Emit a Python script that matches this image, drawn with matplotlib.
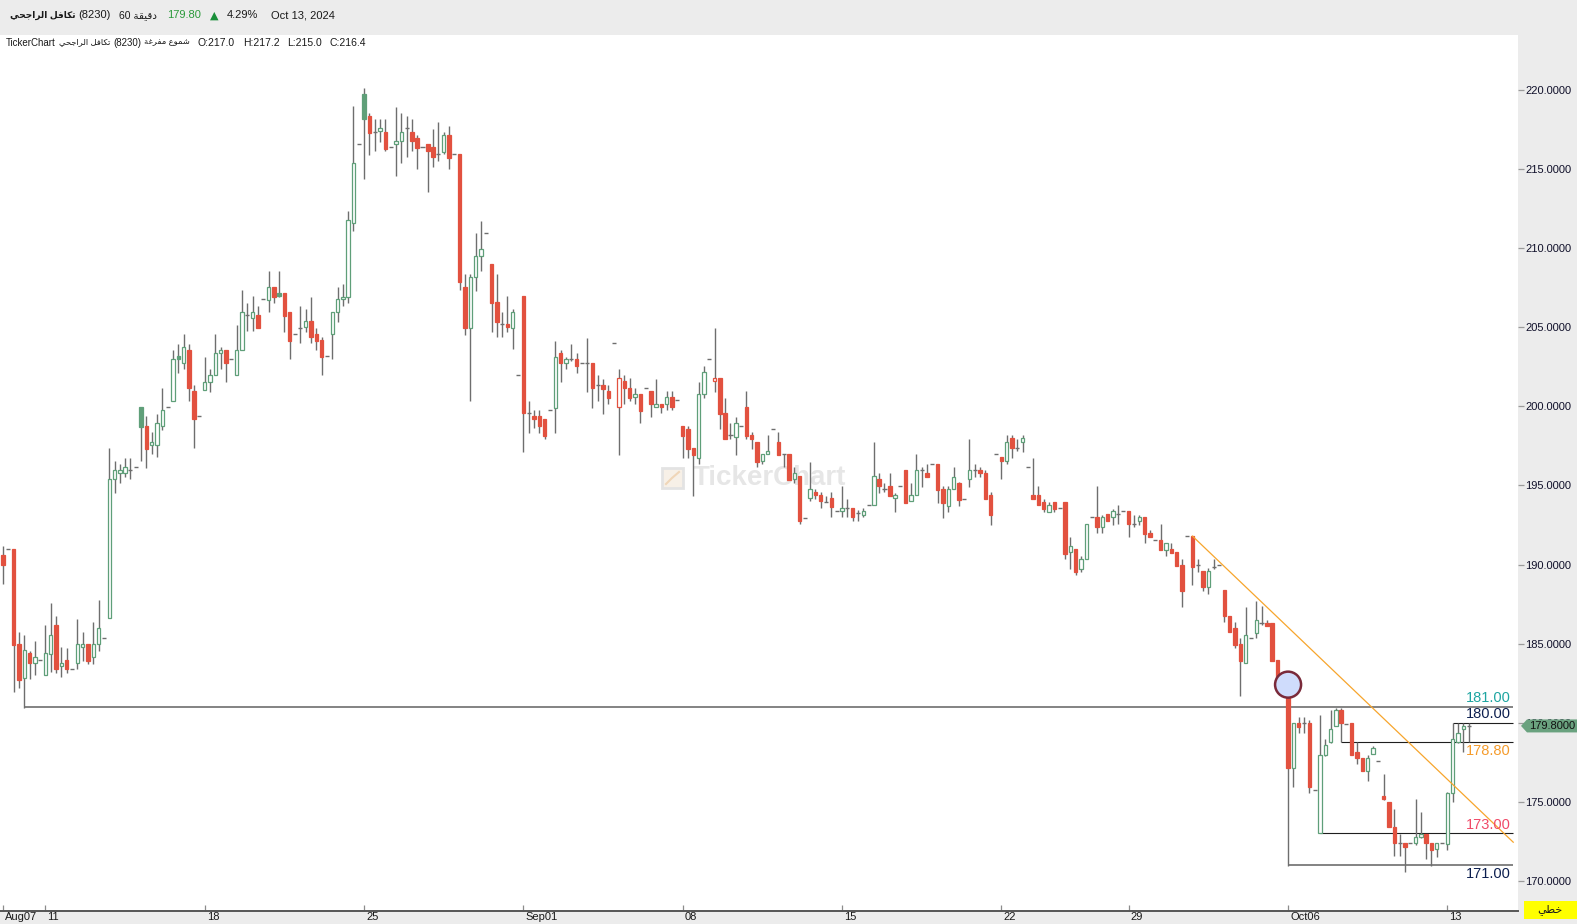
import matplotlib.pyplot as plt
from matplotlib.patches import Rectangle, Ellipse, Polygon
from matplotlib.transforms import ScaledTranslation, blended_transform_factory

plt.rcParams['font.family'] = ['Liberation Sans', 'DejaVu Sans']

# 60-minute candles, 7 Aug - 13 Oct 2024 (six per session, the sixth is the closing auction)
opens = [
    190.6, 191.0,
    191.0, 184.98, 182.82, 184.39, 183.76, 183.95,
    183.0, 184.33, 186.17, 183.56, 183.97, 183.38,
    183.76, 184.77, 184.98, 184.13, 184.96, 185.34,
    186.6, 195.39, 195.77, 195.77, 195.97, 196.14,
    199.96, 198.77, 197.54, 197.54, 198.74, 199.95,
    200.36, 203.2, 202.73, 203.56, 200.96, 199.39,
    201.04, 201.57, 201.97, 203.36, 203.56, 202.98,
    201.97, 203.56, 205.76, 205.57, 205.76, 206.77,
    206.72, 207.53, 207.15, 207.15, 205.95, 204.58,
    204.94, 205.0, 205.4, 204.58, 204.2, 203.19,
    204.56, 205.95, 206.77, 206.93, 211.57, 216.58,
    219.77, 218.36, 217.33, 217.39, 217.33, 216.37,
    216.57, 216.76, 217.59, 217.33, 216.95, 216.37,
    216.57, 216.37, 215.94, 216.1, 217.14, 215.96,
    215.96, 207.53, 204.94, 208.17, 209.53, 210.94,
    209.0, 206.62, 205.19, 205.19, 204.94, 201.97,
    206.98, 199.56, 199.39, 199.39, 199.18, 199.75,
    199.93, 203.36, 202.77, 202.98, 202.98, 202.77,
    202.77, 202.77, 201.35, 201.35, 200.97, 203.99,
    199.99, 201.61, 201.15, 200.58, 200.76, 201.15,
    200.97, 199.94, 200.13, 200.18, 200.58, 200.39,
    198.77, 198.57, 197.39, 196.76, 200.76, 202.98,
    201.59, 201.78, 199.56, 198.18, 198.09, 198.77,
    199.97, 198.19, 197.75, 196.57, 196.98, 198.57,
    197.75, 196.98, 196.98, 195.39, 195.61, 192.97,
    194.19, 194.59, 194.38, 193.94, 194.19, 193.37,
    193.37, 193.57, 193.57, 193.24, 193.16, 193.75,
    193.79, 195.39, 194.77, 194.97, 194.19, 194.97,
    195.99, 193.99, 194.38, 195.97, 195.8, 196.36,
    196.36, 194.77, 193.73, 194.77, 195.15, 194.16,
    195.38, 195.97, 195.99, 195.77, 194.38, 196.98,
    196.79, 196.54, 197.98, 197.35, 197.77, 196.15,
    194.4, 194.38, 193.96, 193.35, 193.96, 193.57,
    193.96, 190.78, 190.99, 189.74, 190.34, 193.0,
    193.02, 192.4, 193.2, 193.0, 193.19, 193.39,
    193.39, 192.56, 192.78, 193.0, 191.98, 191.55,
    191.55, 190.95, 190.97, 190.8, 189.97, 191.8,
    191.8, 189.97, 189.58, 188.56, 189.82, 189.95,
    188.41, 186.78, 185.97, 184.95, 183.79, 185.33,
    185.69, 186.33, 186.33, 186.33, 183.95, 181.73,
    182.03, 177.17, 179.97, 180.0, 179.97, 175.75,
    173.0, 177.99, 178.77, 179.8, 180.81, 179.92,
    179.97, 178.14, 177.76, 176.92, 178.01, 177.59,
    175.37, 175.0, 173.4, 172.38, 172.38, 172.38,
    172.38, 172.76, 172.97, 172.38, 171.99, 172.38,
    172.32, 175.55, 178.77, 179.59, 179.8,
]
highs = [
    191.2, 191.0,
    191.0, 185.72, 185.55, 184.55, 185.17, 183.95,
    186.2, 187.6, 186.76, 184.82, 184.71, 183.38,
    186.57, 185.74, 184.98, 186.38, 187.77, 185.34,
    197.4, 196.55, 196.36, 196.74, 196.74, 196.14,
    199.96, 199.4, 198.41, 199.52, 201.15, 199.95,
    203.56, 203.92, 204.58, 203.92, 201.35, 199.39,
    203.15, 202.36, 204.58, 203.78, 203.56, 202.98,
    205.14, 207.36, 206.55, 206.98, 206.34, 206.77,
    208.56, 207.53, 208.56, 207.15, 205.95, 204.58,
    206.34, 206.13, 206.93, 204.98, 204.41, 203.19,
    205.95, 207.57, 207.74, 212.35, 219.0, 216.58,
    220.1, 218.53, 218.15, 218.15, 218.15, 216.37,
    218.91, 218.53, 218.36, 218.15, 217.14, 216.37,
    216.57, 217.52, 217.96, 217.33, 217.73, 215.96,
    215.96, 208.35, 208.35, 210.94, 211.72, 210.94,
    209.0, 208.37, 205.95, 206.98, 206.13, 201.97,
    206.98, 200.35, 199.77, 199.77, 199.18, 199.75,
    204.13, 203.56, 203.15, 203.92, 203.36, 202.77,
    204.32, 202.77, 201.97, 201.74, 201.35, 203.99,
    202.34, 201.98, 201.78, 201.15, 200.76, 201.15,
    200.97, 201.74, 200.13, 200.97, 200.97, 200.39,
    198.77, 198.77, 197.39, 201.57, 202.55, 202.98,
    204.98, 201.78, 200.56, 198.94, 199.35, 198.77,
    200.97, 198.38, 197.75, 196.98, 198.19, 198.57,
    198.38, 196.98, 196.98, 196.15, 195.61, 192.97,
    196.51, 194.77, 194.59, 194.33, 194.59, 193.37,
    194.97, 194.13, 193.57, 193.45, 193.57, 193.75,
    197.75, 195.77, 195.18, 195.77, 194.55, 194.97,
    195.99, 195.18, 196.99, 196.19, 196.36, 196.36,
    196.36, 194.97, 194.97, 196.17, 195.25, 194.16,
    197.94, 196.36, 196.17, 195.97, 194.59, 196.98,
    196.79, 198.19, 198.19, 197.94, 198.19, 196.15,
    196.72, 194.97, 194.15, 193.96, 193.96, 193.57,
    193.96, 191.76, 190.99, 190.55, 192.56, 193.0,
    194.97, 193.15, 193.2, 193.54, 193.77, 193.39,
    193.39, 193.15, 193.15, 193.0, 192.18, 191.55,
    192.57, 191.35, 191.35, 190.8, 190.36, 191.8,
    191.8, 190.35, 189.58, 189.78, 190.37, 189.95,
    188.41, 186.78, 186.35, 185.33, 187.35, 185.33,
    187.71, 187.39, 186.5, 186.33, 183.95, 181.73,
    182.1, 180.0, 180.39, 180.39, 180.18, 175.75,
    180.52, 179.0, 180.81, 180.92, 180.92, 179.92,
    180.0, 178.77, 177.76, 177.97, 178.53, 177.59,
    176.76, 175.0, 174.55, 172.97, 172.38, 172.38,
    175.16, 174.34, 172.97, 172.4, 172.4, 172.38,
    175.6, 180.0, 179.97, 179.97, 179.97,
]
lows = [
    188.8, 191.0,
    181.94, 182.18, 180.96, 182.74, 183.0, 183.95,
    183.0, 183.2, 183.17, 182.92, 183.17, 183.38,
    183.38, 183.91, 183.72, 183.72, 184.55, 185.34,
    186.6, 194.55, 195.18, 195.56, 195.38, 196.14,
    196.57, 196.13, 196.97, 196.79, 198.5, 199.95,
    200.36, 202.14, 202.34, 200.36, 197.35, 199.39,
    201.04, 200.93, 201.97, 202.36, 201.57, 202.98,
    201.97, 203.56, 204.75, 204.75, 204.94, 206.77,
    205.95, 206.55, 206.93, 204.73, 202.98, 204.58,
    204.0, 204.73, 204.0, 203.56, 201.97, 203.19,
    202.98, 205.36, 206.37, 206.55, 211.11, 216.58,
    214.36, 215.92, 216.16, 216.73, 216.16, 216.37,
    214.58, 215.37, 215.75, 216.16, 214.99, 216.37,
    213.57, 215.15, 215.54, 215.96, 214.99, 215.96,
    207.36, 204.52, 200.36, 207.32, 208.57, 210.94,
    204.73, 204.37, 204.37, 204.73, 203.6, 201.97,
    197.14, 198.34, 198.62, 198.34, 197.94, 199.75,
    198.34, 201.57, 202.36, 202.9, 202.14, 202.77,
    200.93, 199.93, 200.36, 199.52, 200.18, 203.99,
    196.93, 200.18, 200.36, 200.18, 198.98, 201.15,
    199.35, 199.94, 199.56, 199.77, 199.77, 200.39,
    196.76, 196.76, 194.35, 196.34, 200.56, 202.98,
    200.93, 198.56, 197.96, 197.96, 196.93, 198.77,
    197.96, 197.32, 196.19, 196.36, 196.98, 198.57,
    196.91, 196.15, 195.35, 195.15, 192.56, 192.97,
    193.99, 194.16, 193.57, 193.94, 192.99, 193.37,
    192.99, 192.99, 192.77, 192.77, 192.99, 193.75,
    193.79, 194.55, 194.56, 194.35, 193.35, 194.97,
    193.92, 193.99, 194.38, 194.93, 195.56, 196.36,
    193.92, 192.97, 193.35, 194.77, 193.73, 194.16,
    194.93, 195.56, 195.56, 194.16, 192.52, 196.98,
    195.38, 196.34, 196.76, 197.2, 197.14, 196.15,
    194.14, 193.79, 193.35, 193.35, 193.35, 193.57,
    190.37, 189.74, 189.36, 189.55, 190.34, 193.0,
    191.98, 191.98, 192.78, 192.49, 192.59, 193.39,
    191.77, 192.4, 192.51, 191.38, 191.77, 191.55,
    190.92, 190.55, 190.76, 189.93, 187.34, 191.8,
    188.72, 189.55, 188.35, 188.15, 189.7, 189.95,
    186.35, 185.71, 184.7, 181.72, 183.79, 185.33,
    185.33, 186.2, 186.12, 183.91, 182.68, 181.73,
    170.97, 175.97, 179.34, 179.34, 175.59, 175.75,
    173.0, 177.9, 178.7, 179.8, 178.8, 179.92,
    177.97, 177.38, 176.92, 176.35, 178.0, 177.59,
    175.1, 173.4, 171.56, 171.58, 170.55, 172.38,
    172.3, 172.7, 171.37, 170.97, 171.54, 172.38,
    171.96, 174.97, 178.7, 178.17, 178.77,
]
closes = [
    190.0, 191.0,
    184.92, 182.71, 184.6, 183.8, 184.13, 183.95,
    184.4, 185.53, 183.38, 183.78, 183.38, 183.38,
    184.96, 184.96, 183.93, 184.96, 185.98, 185.34,
    195.39, 195.97, 195.97, 196.14, 195.97, 196.14,
    198.72, 197.32, 197.74, 198.93, 199.76, 199.95,
    202.98, 203.0, 203.74, 201.15, 199.19, 199.39,
    201.57, 201.97, 203.36, 203.56, 202.73, 202.98,
    203.56, 205.95, 205.76, 205.95, 204.94, 206.77,
    207.53, 206.93, 206.95, 205.74, 204.13, 204.58,
    204.94, 205.4, 204.37, 204.13, 203.15, 203.19,
    205.95, 206.77, 206.93, 211.76, 215.37, 216.58,
    218.15, 217.31, 217.33, 217.59, 216.29, 216.37,
    216.76, 217.33, 217.59, 216.76, 216.35, 216.37,
    216.16, 215.79, 215.94, 217.14, 215.73, 215.96,
    207.89, 204.94, 208.17, 209.53, 209.93, 210.94,
    206.55, 205.36, 205.19, 205.0, 205.95, 201.97,
    199.56, 199.56, 199.18, 198.79, 198.15, 199.75,
    203.15, 202.77, 202.98, 202.98, 202.58, 202.77,
    202.77, 201.19, 201.35, 201.12, 200.56, 203.99,
    201.78, 201.19, 200.56, 200.76, 199.73, 201.15,
    200.13, 200.13, 199.94, 200.58, 199.99, 200.39,
    198.13, 197.32, 196.95, 200.76, 202.17, 202.98,
    201.78, 199.54, 197.96, 198.18, 198.94, 198.77,
    198.13, 197.96, 196.51, 196.98, 197.17, 198.57,
    196.91, 196.98, 195.35, 195.77, 192.77, 192.97,
    194.77, 194.38, 193.99, 193.94, 193.63, 193.37,
    193.57, 193.57, 192.99, 193.24, 193.37, 193.75,
    195.61, 194.97, 194.77, 194.35, 194.38, 194.97,
    193.92, 194.38, 195.99, 195.97, 195.56, 196.36,
    194.74, 193.92, 194.77, 195.56, 194.1, 194.16,
    195.97, 195.97, 195.76, 194.16, 193.16, 196.98,
    196.57, 197.74, 197.37, 197.35, 197.98, 196.15,
    194.14, 193.79, 193.54, 193.75, 193.54, 193.57,
    190.69, 191.15, 189.55, 190.36, 192.56, 193.0,
    192.4, 193.0, 192.78, 193.39, 193.19, 193.39,
    192.56, 192.56, 193.0, 191.96, 191.77, 191.55,
    190.92, 191.35, 190.76, 189.93, 188.35, 191.8,
    189.82, 189.97, 188.56, 189.58, 189.82, 189.95,
    186.76, 185.71, 184.9, 183.89, 185.54, 185.33,
    186.5, 186.33, 186.12, 183.91, 182.68, 181.73,
    177.17, 179.97, 179.76, 180.0, 175.97, 175.75,
    177.95, 178.58, 179.59, 180.81, 179.97, 179.92,
    177.97, 177.76, 176.92, 177.76, 178.39, 177.59,
    175.16, 173.4, 172.38, 172.38, 172.17, 172.38,
    172.76, 172.97, 172.38, 171.96, 172.38, 172.38,
    175.55, 178.96, 179.34, 179.8, 179.8,
]

# candle index of the first bar of each labelled day
tick_pos = [0, 8, 38, 68, 98, 128, 158, 188, 212, 242, 272]
tick_labels = ['Aug07', '11', '18', '25', 'Sep01', '08', '15', '22', '29', 'Oct06', '13']

# horizontal levels drawn from a candle to the right edge
level_prices = [181.00, 180.00, 178.80, 173.00, 171.00]
level_from = [4, 273, 252, 248, 242]

# trend line and circle marker
trend_x = [224, 284.4]
trend_y = [191.80, 172.45]
circle_x, circle_y = 242, 182.41

last_price = 179.80
change_pct = 4.29
legend_ohlc = ['O:217.0', 'H:217.2', 'L:215.0', 'C:216.4']

# arabic strings in visual (shaped, left-to-right) order
name_ar = '\uFEF2\uFEA4\uFE9F\uFE8D\uFEAE\uFEDF\uFE8D \uFEDE\uFED3\uFE8E\uFEDC\uFE97'
minutes_ar = '\uFE94\uFED8\uFEF4\uFED7\uFEA9'
hollow_ar = '\uFE94\uFECF\uFEAE\uFED4\uFEE3 \uFEC9\uFEEE\uFEE4\uFEB7'
linear_ar = '\uFEF2\uFEC4\uFEA7'

GREEN = '#5f9f79'
RED = '#e2513f'
WICK = '#6e6e6e'
INK = '#1a1a1a'

W, H = 1577, 924
def fx(px):
    return px / W
def fy(py):
    return 1 - py / H

fig = plt.figure(figsize=(W / 100, H / 100), dpi=100, facecolor='#ececec')
ax = fig.add_axes([0, 13 / H, 1518 / W, 876 / H])
ax.set_facecolor('white')
ax.set_xlim(-0.565, 285.3)
ax.set_ylim(168.10, 223.48)

# candles
wx, wlo, whi = [], [], []
dx, dy = [], []
bx, bb, bh, bface, bedge = [], [], [], [], []
for i, (o, h, l, c) in enumerate(zip(opens, highs, lows, closes)):
    if h > l:
        wx.append(i); wlo.append(l); whi.append(h)
    if o == c:
        dx.append(i); dy.append(c)
        continue
    prev = closes[i - 1] if i else o
    col = GREEN if c >= prev else RED
    bx.append(i); bb.append(min(o, c)); bh.append(abs(c - o))
    bedge.append(col)
    bface.append(col if c < o else 'white')

ax.vlines(wx, wlo, whi, color=WICK, lw=1.0, zorder=2)
ax.bar(bx, bh, bottom=bb, width=0.64, color=bface, edgecolor=bedge, linewidth=0.9, zorder=3)
ax.hlines(dy, [x - 0.38 for x in dx], [x + 0.38 for x in dx], color=WICK, lw=1.0, zorder=3)

# levels
level_style = [
    dict(color='#7a7a7a', lw=1.3, tc='#1ea5a1', above=True),
    dict(color='#1e1e1e', lw=0.8, tc='#0d1f4f', above=True),
    dict(color='#1e1e1e', lw=0.8, tc='#f59b2b', above=False),
    dict(color='#1e1e1e', lw=0.8, tc='#f04a68', above=True),
    dict(color='#7a7a7a', lw=1.3, tc='#0d1f4f', above=False),
]
for p, start, st in zip(level_prices, level_from, level_style):
    ax.hlines(p, start, 284.4, color=st['color'], lw=st['lw'], zorder=1.5)
    off = 3.5 if st['above'] else -9.5
    ax.annotate(f'{p:.2f}', xy=(284.0, p), xytext=(0, off), textcoords='offset points',
                ha='right', va='baseline', fontsize=10.5, color=st['tc'], zorder=6)

ax.plot(trend_x, trend_y, color='#f7a52c', lw=0.9, zorder=5)
ax.add_patch(Ellipse((circle_x, circle_y), 26 / 5.31, 26 / 15.82, facecolor='#cfdcfc',
                     edgecolor='#7a2a3a', lw=1.8, zorder=6))

# watermark
ax.text(fx(769), fy(478), 'TickerChart', transform=fig.transFigure, fontsize=20,
        fontweight='bold', color='#e6e6e6', ha='center', va='center', zorder=0.5)
ax.add_patch(Rectangle((fx(662), fy(488)), 21 / W, 20 / H, transform=fig.transFigure,
                       facecolor='#f7f0e7', edgecolor='#e3e3e3', lw=2, zorder=0.5))
ax.plot([fx(666), fx(672), fx(679)], [fy(484), fy(478), fy(472)], transform=fig.transFigure,
        color='#f0d6b8', lw=1.5, zorder=0.6)

# axes
for s in ['top', 'left', 'right']:
    ax.spines[s].set_visible(False)
ax.spines['bottom'].set_color('#555555')
ax.spines['bottom'].set_linewidth(1.4)
ax.yaxis.tick_right()
yt = list(range(170, 221, 5))
ax.set_yticks(yt)
ax.set_yticklabels([f'{v:.4f}' for v in yt])
ax.tick_params(axis='y', direction='out', length=4, width=0.9, color='#9a9a9a',
               labelsize=8, labelcolor='#10102a', pad=1)
ax.set_xticks(tick_pos)
ax.set_xticklabels(tick_labels)
ax.tick_params(axis='x', direction='in', length=4, width=0.9, color='#8c8c8c',
               labelsize=8, labelcolor=INK, pad=1)
for lbl in ax.get_xticklabels():
    lbl.set_ha('left')
    lbl.set_transform(lbl.get_transform() + ScaledTranslation(2 / 100, 0, fig.dpi_scale_trans))

# last price marker on the price axis
bt = blended_transform_factory(fig.transFigure, ax.transData)
half = 6.5 / 15.82
fig.add_artist(Polygon([(fx(1521), last_price), (fx(1527), last_price + half),
                        (fx(1577), last_price + half), (fx(1577), last_price - half),
                        (fx(1527), last_price - half)], closed=True, transform=bt,
                       facecolor='#6aa27f', edgecolor='none'))
fig.text(fx(1529), last_price, f'{last_price:.4f}', transform=bt, fontsize=8,
         color='#111111', va='center', ha='left')

# chart type box
fig.add_artist(Rectangle((fx(1524), fy(919)), 53 / W, 18 / H, transform=fig.transFigure,
                         facecolor='#ffff00', edgecolor='none'))
fig.text(fx(1550), fy(910), linear_ar, fontsize=8, color=INK, ha='center', va='center')

# header texts, placed one after another
renderer = fig.canvas.get_renderer()

def put(px, py, s, **kw):
    t = fig.text(fx(px), fy(py), s, va='center', ha='left', color=kw.pop('color', INK), **kw)
    return t.get_window_extent(renderer).x1 * W / fig.bbox.width

x = put(10, 15.5, name_ar, fontsize=6.5, fontweight='bold')
x = put(x + 3, 15.5, '(8230)', fontsize=8)
x = put(x + 8, 15.5, '60 ' + minutes_ar, fontsize=7.5)
x = put(x + 10, 15.5, f'{last_price:.2f}', fontsize=8, color='#2a9a3a')
x = put(x + 9, 15.5, '\u25B2', fontsize=8, color='#1a8f3a', family='DejaVu Sans')
x = put(x + 8, 15.5, f'{change_pct:.2f}%', fontsize=8)
put(max(x + 13, 269), 15.5, 'Oct 13, 2024', fontsize=8)

x = put(6, 42.5, 'TickerChart', fontsize=7)
x = put(x + 3, 42.5, name_ar, fontsize=6)
x = put(x + 3, 42.5, '(8230)', fontsize=7)
x = put(x + 3, 42.5, hollow_ar, fontsize=6)
for px, s in zip([198, 243, 287, 330], legend_ohlc):
    put(max(px, x + 6), 42.5, s, fontsize=7.5)

fig.savefig('out.png', dpi=100, facecolor=fig.get_facecolor())
